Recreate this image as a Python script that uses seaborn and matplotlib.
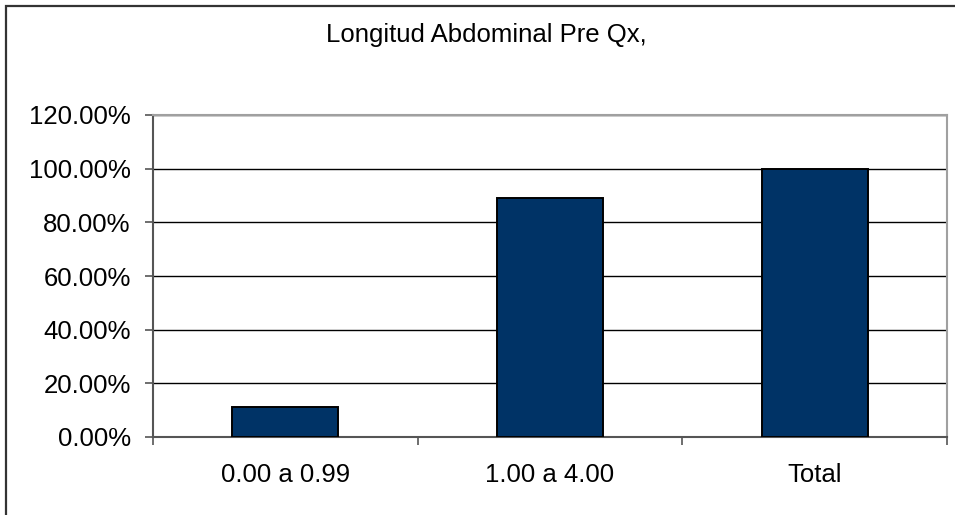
import matplotlib
matplotlib.use("Agg")
import matplotlib.pyplot as plt
from matplotlib.patches import Rectangle
from matplotlib.ticker import FuncFormatter, MultipleLocator, FixedLocator
import seaborn as sns
import pandas as pd

# Data
categories = ["0.00 a 0.99", "1.00 a 4.00", "Total"]
percentages = [11.11, 88.89, 100.00]
title_text = "Longitud Abdominal Pre Qx,"

df = pd.DataFrame({"rango": categories, "porcentaje": percentages})

sns.set_theme(style="white")
plt.rcParams["font.family"] = ["Liberation Sans", "DejaVu Sans"]

FS = 18.5

fig = plt.figure(figsize=(9.55, 5.15), dpi=100)
ax = fig.add_axes([153 / 955, (515 - 437) / 515, (947 - 153) / 955, (437 - 115) / 515])

sns.barplot(data=df, x="rango", y="porcentaje", color="#003366", width=0.4,
            edgecolor="black", linewidth=1.4, saturation=1, ax=ax, zorder=3)

ax.set_xlim(-0.5, 2.5)
ax.set_ylim(0, 120)
ax.yaxis.set_major_locator(MultipleLocator(20))
ax.yaxis.set_major_formatter(FuncFormatter(lambda v, p: f"{v:.2f}%"))
ax.grid(axis="y", color="black", linewidth=1.0, zorder=0)
ax.set_axisbelow(True)
ax.set_xlabel("")
ax.set_ylabel("")

# Category ticks at the boundaries, labels centred on the bars
ax.xaxis.set_major_locator(FixedLocator([-0.5, 0.5, 1.5, 2.5]))
ax.xaxis.set_major_formatter(FuncFormatter(lambda v, p: ""))
ax.xaxis.set_minor_locator(FixedLocator([0, 1, 2]))
ax.set_xticklabels(categories, minor=True)
ax.tick_params(axis="x", which="major", direction="out", length=6, width=1.2,
               color="#555555", bottom=True)
ax.tick_params(axis="x", which="minor", length=0, pad=19, labelsize=FS,
               labelcolor="black")
ax.tick_params(axis="y", which="major", direction="out", length=6, width=1.2,
               color="#555555", left=True, labelsize=FS, labelcolor="black", pad=10)

for side in ["left", "bottom"]:
    ax.spines[side].set_color("#555555")
    ax.spines[side].set_linewidth(1.5)
for side in ["top", "right"]:
    ax.spines[side].set_color("#a0a0a0")
    ax.spines[side].set_linewidth(1.5)
    ax.spines[side].set_visible(True)

fig.text(486 / 955, 1 - 35 / 515, title_text, ha="center", va="center",
         fontsize=FS, color="black")

# Chart-area frame
fig.patches.append(Rectangle((6 / 955, -0.1), 1.2, 1 - 6 / 515 + 0.1,
                             transform=fig.transFigure, fill=False,
                             edgecolor="#333333", linewidth=1.6, zorder=10))

fig.savefig("out.png", dpi=100)
